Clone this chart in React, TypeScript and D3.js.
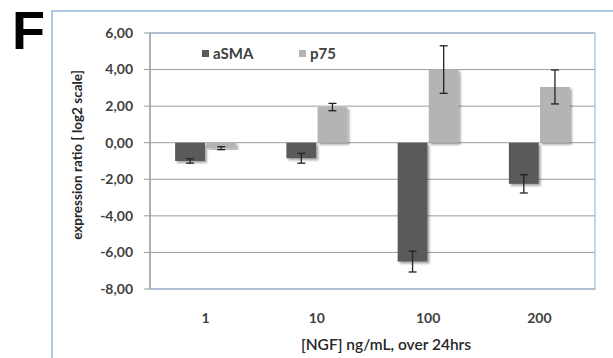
import React from "react";
import * as d3 from "d3";

const categories = ["1", "10", "100", "200"];
const seriesNames = ["aSMA", "p75"];
const aSMA = [-1.0, -0.85, -6.5, -2.25];
const aSMAErr = [0.12, 0.27, 0.57, 0.5];
const p75 = [-0.3, 1.95, 4.0, 3.05];
const p75Err = [0.08, 0.2, 1.3, 0.93];
const yTicks = [6, 4, 2, 0, -2, -4, -6, -8];
const colors = ["#5a5a5a", "#b4b4b4"];

const W = 613, H = 358;
const plot = { left: 150, right: 595, top: 33, bottom: 289 };

export default function App() {
  const y = d3.scaleLinear().domain([-8, 6]).range([plot.bottom, plot.top]);
  const x = d3.scaleBand().domain(categories).range([plot.left, plot.right]);
  const inner = d3.scaleBand().domain(seriesNames).range([0, 61]).paddingInner(0.04);
  const values = [aSMA, p75];
  const errs = [aSMAErr, p75Err];
  const fmt = (v: number) => v.toFixed(2).replace(".", ",");
  const font = "Lato, 'Open Sans', sans-serif";
  return (
    <svg width={W} height={H} style={{ position: "absolute", left: 0, top: 0, background: "#fff" }}>
      <defs>
        <filter id="sh" x="-20%" y="-20%" width="150%" height="150%">
          <feGaussianBlur in="SourceAlpha" stdDeviation="1.2" />
          <feOffset dx="1.5" dy="1.5" result="b" />
          <feComponentTransfer><feFuncA type="linear" slope="0.35" /></feComponentTransfer>
          <feMerge><feMergeNode /><feMergeNode in="SourceGraphic" /></feMerge>
        </filter>
      </defs>
      <rect x={0} y={0} width={W} height={H} fill="#fff" />
      <text x={12} y={49} fontFamily="Arial, 'Liberation Sans', sans-serif" fontWeight="bold" fontSize={54} fill="#000">F</text>
      <rect x={52} y={11} width={600} height={400} fill="none" stroke="#94b6d8" strokeWidth={1.5} />
      {yTicks.map((t) => (
        <line key={t} x1={plot.left} x2={plot.right} y1={y(t)} y2={y(t)} stroke="#9c9c9c" strokeWidth={1} />
      ))}
      <rect x={plot.left} y={plot.top} width={plot.right - plot.left} height={plot.bottom - plot.top} fill="none" stroke="#9dbbd8" strokeWidth={1.2} />
      <line x1={plot.left} x2={plot.left} y1={plot.top} y2={plot.bottom} stroke="#9a9a9a" strokeWidth={1.2} />
      {yTicks.map((t) => (
        <g key={"t" + t}>
          <line x1={plot.left - 6} x2={plot.left} y1={y(t)} y2={y(t)} stroke="#9a9a9a" strokeWidth={1} />
          <text x={133} y={y(t)} dy="0.35em" textAnchor="end" fontFamily={font} fontWeight="bold" fontSize={14} fill="#404040">{fmt(t)}</text>
        </g>
      ))}
      {categories.map((c, i) => (
        <g key={c}>
          {seriesNames.map((s, k) => {
            const v = values[k][i];
            const bx = (x(c) as number) + x.bandwidth() / 2 - 30.5 + (inner(s) as number);
            const bw = inner.bandwidth();
            const y0 = y(Math.max(0, v)), y1 = y(Math.min(0, v));
            return <rect key={s} x={bx} y={y0} width={bw} height={y1 - y0} fill={colors[k]} filter="url(#sh)" />;
          })}
        </g>
      ))}
      {categories.map((c, i) => (
        <g key={"e" + c}>
          {seriesNames.map((s, k) => {
            const v = values[k][i], e = errs[k][i];
            const cx = (x(c) as number) + x.bandwidth() / 2 - 30.5 + (inner(s) as number) + inner.bandwidth() / 2;
            return (
              <g key={s} stroke="#222" strokeWidth={1.3}>
                <line x1={cx} x2={cx} y1={y(v + e)} y2={y(v - e)} />
                <line x1={cx - 4} x2={cx + 4} y1={y(v + e)} y2={y(v + e)} />
                <line x1={cx - 4} x2={cx + 4} y1={y(v - e)} y2={y(v - e)} />
              </g>
            );
          })}
        </g>
      ))}
      {categories.map((c) => (
        <text key={"l" + c} x={(x(c) as number) + x.bandwidth() / 2} y={323} textAnchor="middle" fontFamily={font} fontWeight="bold" fontSize={14} fill="#404040">{c}</text>
      ))}
      {seriesNames.map((s, k) => {
        const lx = [202, 299][k];
        return (
          <g key={"lg" + s}>
            <rect x={lx} y={50} width={7} height={7} fill={colors[k]} />
            <text x={lx + 11} y={59} fontFamily={font} fontWeight="bold" fontSize={15} fill="#404040">{s}</text>
          </g>
        );
      })}
      <text transform={`translate(82,155) rotate(-90)`} textAnchor="middle" fontFamily={font} fontWeight="bold" fontSize={13.5} fill="#262626">expression ratio [ log2 scale]</text>
      <text x={386} y={350} textAnchor="middle" fontFamily={font} fontWeight="600" fontSize={15.5} fill="#262626">[NGF] ng/mL, over 24hrs</text>
    </svg>
  );
}
